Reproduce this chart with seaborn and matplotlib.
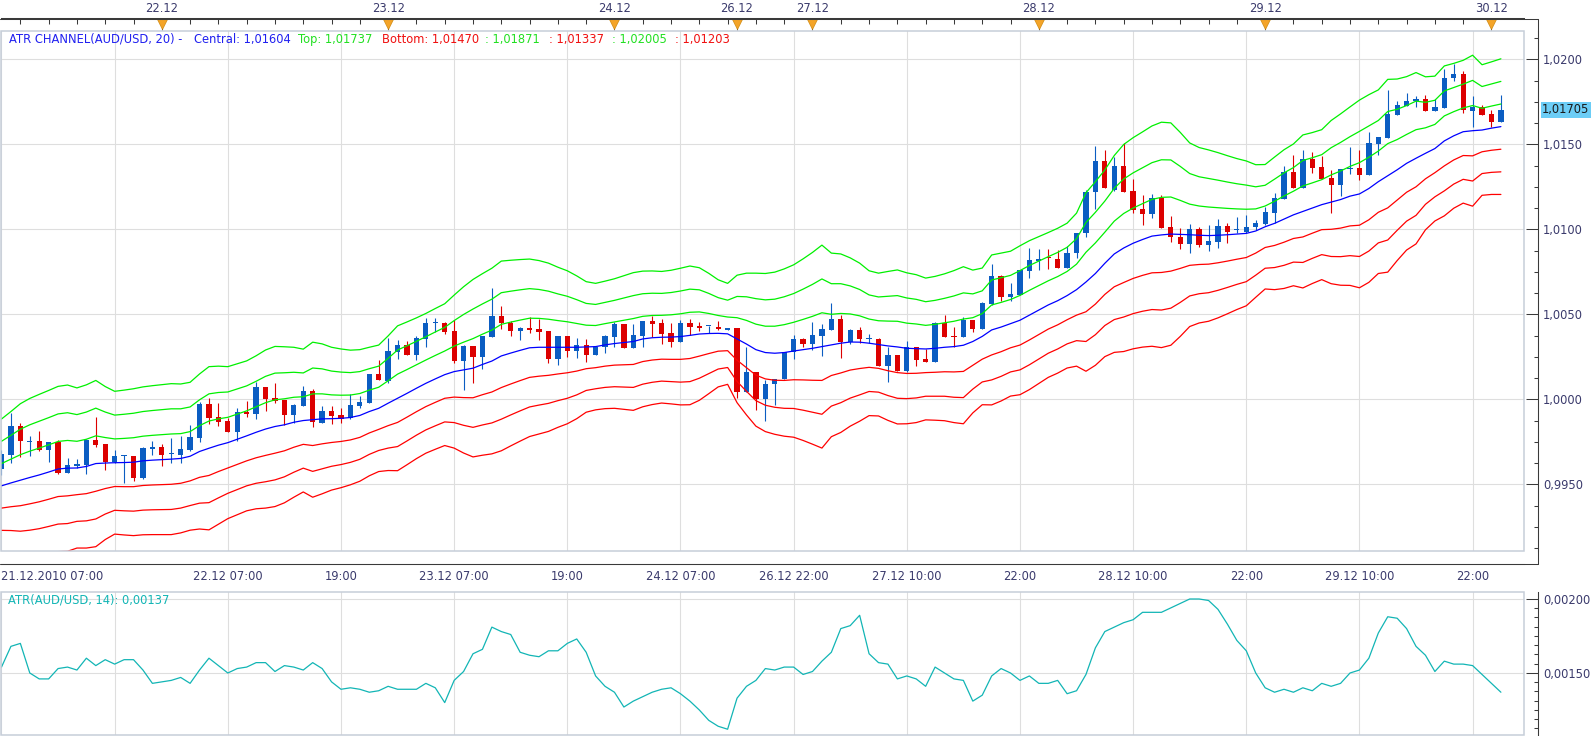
import matplotlib
matplotlib.use("Agg")
import matplotlib.pyplot as plt
import matplotlib.transforms as mtransforms
from matplotlib.lines import Line2D
from matplotlib.patches import Rectangle
from matplotlib.ticker import FixedLocator, FuncFormatter, MultipleLocator
import numpy as np
import pandas as pd
import seaborn as sns

# hourly AUD/USD bars, bar 0 = 21.12.2010 07:00
opens = [0.99589, 0.99673, 0.99844, 0.99750, 0.99756, 0.99703, 0.99750, 0.99569, 0.99610, 0.99614,
         0.99761, 0.99738, 0.99632, 0.99665, 0.99667, 0.99536, 0.99710, 0.99720, 0.99677, 0.99673,
         0.99703, 0.99775, 0.99973, 0.99897, 0.99873, 0.99808, 0.99926, 0.99916, 1.00073, 1.00008,
         0.99993, 0.99910, 0.99963, 1.00050, 0.99863, 0.99932, 0.99906, 0.99889, 0.99963, 0.99981,
         1.00149, 1.00110, 1.00281, 1.00320, 1.00263, 1.00357, 1.00451, 1.00447, 1.00402, 1.00228,
         1.00314, 1.00251, 1.00369, 1.00490, 1.00451, 1.00404, 1.00420, 1.00414, 1.00402, 1.00236,
         1.00373, 1.00286, 1.00320, 1.00263, 1.00306, 1.00369, 1.00443, 1.00304, 1.00373, 1.00463,
         1.00447, 1.00388, 1.00339, 1.00447, 1.00432, 1.00430, 1.00428, 1.00410, 1.00418, 1.00043,
         1.00161, 1.00004, 1.00089, 1.00118, 1.00281, 1.00355, 1.00324, 1.00375, 1.00410, 1.00473,
         1.00339, 1.00408, 1.00357, 1.00355, 1.00198, 1.00259, 1.00169, 1.00306, 1.00236, 1.00220,
         1.00451, 1.00373, 1.00365, 1.00467, 1.00412, 1.00563, 1.00726, 1.00600, 1.00614, 1.00757,
         1.00816, 1.00833, 1.00826, 1.00775, 1.00859, 1.00976, 1.01217, 1.01400, 1.01231, 1.01372,
         1.01225, 1.01119, 1.01090, 1.01182, 1.01016, 1.00953, 1.00914, 1.01000, 1.00908, 1.00927,
         1.01020, 1.00994, 1.00986, 1.01012, 1.01031, 1.01098, 1.01178, 1.01335, 1.01245, 1.01412,
         1.01364, 1.01300, 1.01263, 1.01353, 1.01362, 1.01319, 1.01504, 1.01539, 1.01672, 1.01725,
         1.01753, 1.01766, 1.01698, 1.01715, 1.01888, 1.01913, 1.01698, 1.01717, 1.01678, 1.01633]
highs = [0.99703, 0.99918, 0.99859, 0.99785, 0.99814, 0.99750, 0.99758, 0.99654, 0.99648, 0.99765,
         0.99893, 0.99738, 0.99703, 0.99671, 0.99667, 0.99718, 0.99756, 0.99738, 0.99775, 0.99785,
         0.99850, 0.99987, 1.00006, 0.99977, 0.99889, 0.99950, 0.99991, 1.00100, 1.00075, 1.00095,
         0.99993, 0.99973, 1.00079, 1.00063, 0.99963, 0.99961, 0.99946, 1.00032, 1.00020, 1.00151,
         1.00232, 1.00359, 1.00349, 1.00343, 1.00373, 1.00477, 1.00477, 1.00455, 1.00467, 1.00320,
         1.00314, 1.00373, 1.00653, 1.00549, 1.00463, 1.00424, 1.00482, 1.00475, 1.00402, 1.00373,
         1.00373, 1.00363, 1.00355, 1.00314, 1.00377, 1.00455, 1.00443, 1.00441, 1.00463, 1.00490,
         1.00471, 1.00451, 1.00467, 1.00475, 1.00455, 1.00434, 1.00463, 1.00420, 1.00418, 1.00310,
         1.00161, 1.00114, 1.00118, 1.00281, 1.00379, 1.00363, 1.00453, 1.00443, 1.00569, 1.00496,
         1.00414, 1.00428, 1.00384, 1.00363, 1.00306, 1.00259, 1.00345, 1.00310, 1.00294, 1.00455,
         1.00496, 1.00428, 1.00482, 1.00467, 1.00573, 1.00796, 1.00731, 1.00682, 1.00761, 1.00888,
         1.00884, 1.00884, 1.00878, 1.00902, 1.00976, 1.01231, 1.01492, 1.01466, 1.01423, 1.01506,
         1.01294, 1.01202, 1.01208, 1.01202, 1.01078, 1.01006, 1.01031, 1.01012, 1.01025, 1.01061,
         1.01039, 1.01071, 1.01084, 1.01055, 1.01129, 1.01212, 1.01372, 1.01437, 1.01466, 1.01453,
         1.01431, 1.01349, 1.01353, 1.01482, 1.01466, 1.01574, 1.01543, 1.01819, 1.01753, 1.01800,
         1.01784, 1.01790, 1.01764, 1.01943, 1.01970, 1.01931, 1.01784, 1.01731, 1.01702, 1.01790]
lows = [0.99556, 0.99628, 0.99663, 0.99669, 0.99693, 0.99634, 0.99561, 0.99565, 0.99595, 0.99561,
        0.99722, 0.99585, 0.99624, 0.99507, 0.99522, 0.99532, 0.99673, 0.99609, 0.99628, 0.99628,
        0.99693, 0.99750, 0.99852, 0.99844, 0.99808, 0.99754, 0.99893, 0.99887, 0.99932, 0.99977,
        0.99848, 0.99859, 0.99961, 0.99836, 0.99859, 0.99857, 0.99859, 0.99885, 0.99948, 0.99977,
        1.00114, 1.00098, 1.00236, 1.00263, 1.00232, 1.00310, 1.00398, 1.00383, 1.00212, 1.00055,
        1.00098, 1.00177, 1.00365, 1.00416, 1.00373, 1.00349, 1.00388, 1.00349, 1.00216, 1.00202,
        1.00251, 1.00245, 1.00222, 1.00263, 1.00275, 1.00310, 1.00304, 1.00304, 1.00310, 1.00369,
        1.00328, 1.00306, 1.00339, 1.00379, 1.00402, 1.00392, 1.00408, 1.00408, 1.00006, 1.00043,
        0.99938, 0.99875, 0.99967, 1.00118, 1.00239, 1.00310, 1.00290, 1.00257, 1.00410, 1.00245,
        1.00324, 1.00330, 1.00330, 1.00198, 1.00100, 1.00169, 1.00163, 1.00196, 1.00218, 1.00220,
        1.00369, 1.00306, 1.00365, 1.00398, 1.00412, 1.00555, 1.00580, 1.00580, 1.00614, 1.00716,
        1.00761, 1.00767, 1.00775, 1.00775, 1.00829, 1.00953, 1.01121, 1.01245, 1.01225, 1.01221,
        1.01098, 1.01025, 1.01069, 1.01010, 1.00927, 1.00884, 1.00863, 1.00898, 1.00874, 1.00892,
        1.00918, 1.00976, 1.00976, 1.00996, 1.01025, 1.01039, 1.01178, 1.01241, 1.01245, 1.01333,
        1.01298, 1.01098, 1.01198, 1.01325, 1.01290, 1.01319, 1.01437, 1.01539, 1.01672, 1.01725,
        1.01721, 1.01698, 1.01698, 1.01715, 1.01874, 1.01682, 1.01604, 1.01672, 1.01604, 1.01633]
closes = [0.99679, 0.99844, 0.99752, 0.99756, 0.99703, 0.99750, 0.99569, 0.99612, 0.99620, 0.99761,
          0.99732, 0.99632, 0.99667, 0.99669, 0.99536, 0.99714, 0.99720, 0.99673, 0.99681, 0.99709,
          0.99779, 0.99975, 0.99891, 0.99869, 0.99808, 0.99926, 0.99916, 1.00073, 1.00004, 0.99989,
          0.99910, 0.99967, 1.00050, 0.99865, 0.99932, 0.99904, 0.99885, 0.99967, 0.99985, 1.00149,
          1.00114, 1.00285, 1.00320, 1.00263, 1.00361, 1.00449, 1.00455, 1.00398, 1.00228, 1.00314,
          1.00251, 1.00373, 1.00490, 1.00451, 1.00404, 1.00420, 1.00408, 1.00398, 1.00236, 1.00373,
          1.00286, 1.00320, 1.00263, 1.00306, 1.00373, 1.00443, 1.00304, 1.00379, 1.00463, 1.00443,
          1.00386, 1.00339, 1.00449, 1.00428, 1.00420, 1.00434, 1.00412, 1.00418, 1.00043, 1.00161,
          1.00004, 1.00091, 1.00118, 1.00281, 1.00353, 1.00324, 1.00377, 1.00414, 1.00473, 1.00339,
          1.00408, 1.00353, 1.00361, 1.00198, 1.00261, 1.00169, 1.00306, 1.00232, 1.00220, 1.00451,
          1.00369, 1.00365, 1.00467, 1.00412, 1.00565, 1.00726, 1.00600, 1.00620, 1.00761, 1.00820,
          1.00828, 1.00829, 1.00775, 1.00859, 1.00976, 1.01219, 1.01400, 1.01245, 1.01372, 1.01221,
          1.01114, 1.01090, 1.01182, 1.01010, 1.00953, 1.00914, 1.01000, 1.00908, 1.00931, 1.01020,
          1.00986, 1.00998, 1.01012, 1.01035, 1.01102, 1.01182, 1.01335, 1.01245, 1.01412, 1.01362,
          1.01298, 1.01263, 1.01353, 1.01362, 1.01319, 1.01506, 1.01543, 1.01678, 1.01729, 1.01753,
          1.01766, 1.01698, 1.01717, 1.01888, 1.01913, 1.01702, 1.01717, 1.01672, 1.01633, 1.01702]

# ATR channel centre line and channel step (distance between neighbouring bands)
central = [0.99491, 0.99508, 0.99524, 0.99540, 0.99555, 0.99572, 0.99590, 0.99595, 0.99596, 0.99605,
           0.99622, 0.99625, 0.99627, 0.99628, 0.99630, 0.99638, 0.99642, 0.99645, 0.99648, 0.99652,
           0.99665, 0.99693, 0.99712, 0.99730, 0.99745, 0.99765, 0.99785, 0.99806, 0.99825, 0.99840,
           0.99850, 0.99865, 0.99875, 0.99880, 0.99885, 0.99886, 0.99888, 0.99893, 0.99905, 0.99928,
           0.99947, 0.99977, 1.00006, 1.00035, 1.00065, 1.00094, 1.00120, 1.00145, 1.00163, 1.00173,
           1.00183, 1.00205, 1.00225, 1.00255, 1.00272, 1.00288, 1.00303, 1.00306, 1.00306, 1.00306,
           1.00306, 1.00306, 1.00308, 1.00310, 1.00320, 1.00328, 1.00334, 1.00340, 1.00355, 1.00362,
           1.00365, 1.00366, 1.00369, 1.00376, 1.00384, 1.00387, 1.00388, 1.00385, 1.00355, 1.00325,
           1.00292, 1.00275, 1.00271, 1.00275, 1.00284, 1.00292, 1.00300, 1.00310, 1.00320, 1.00330,
           1.00337, 1.00336, 1.00330, 1.00322, 1.00314, 1.00308, 1.00300, 1.00298, 1.00296, 1.00300,
           1.00306, 1.00310, 1.00318, 1.00340, 1.00370, 1.00408, 1.00425, 1.00445, 1.00465, 1.00495,
           1.00525, 1.00555, 1.00580, 1.00610, 1.00645, 1.00690, 1.00740, 1.00800, 1.00855, 1.00890,
           1.00918, 1.00940, 1.00960, 1.00967, 1.00972, 1.00970, 1.00968, 1.00965, 1.00963, 1.00965,
           1.00968, 1.00972, 1.00976, 1.00990, 1.01015, 1.01035, 1.01060, 1.01085, 1.01105, 1.01125,
           1.01145, 1.01160, 1.01175, 1.01195, 1.01208, 1.01240, 1.01280, 1.01315, 1.01350, 1.01388,
           1.01418, 1.01447, 1.01475, 1.01520, 1.01550, 1.01574, 1.01580, 1.01584, 1.01595, 1.01604]
channel_step = [0.00131, 0.00140, 0.00150, 0.00155, 0.00158, 0.00160, 0.00162, 0.00163, 0.00157, 0.00160,
                0.00163, 0.00150, 0.00140, 0.00142, 0.00144, 0.00145, 0.00146, 0.00147, 0.00148, 0.00146,
                0.00145, 0.00152, 0.00160, 0.00155, 0.00149, 0.00148, 0.00147, 0.00150, 0.00155, 0.00157,
                0.00153, 0.00147, 0.00140, 0.00152, 0.00147, 0.00140, 0.00136, 0.00132, 0.00129, 0.00126,
                0.00124, 0.00132, 0.00142, 0.00140, 0.00138, 0.00137, 0.00138, 0.00139, 0.00150, 0.00163,
                0.00174, 0.00178, 0.00182, 0.00186, 0.00182, 0.00178, 0.00174, 0.00170, 0.00165, 0.00157,
                0.00150, 0.00140, 0.00128, 0.00124, 0.00125, 0.00127, 0.00131, 0.00135, 0.00133, 0.00131,
                0.00129, 0.00131, 0.00134, 0.00136, 0.00130, 0.00118, 0.00105, 0.00099, 0.00125, 0.00139,
                0.00150, 0.00155, 0.00159, 0.00164, 0.00169, 0.00178, 0.00188, 0.00199, 0.00180, 0.00175,
                0.00165, 0.00155, 0.00142, 0.00140, 0.00146, 0.00151, 0.00148, 0.00145, 0.00139, 0.00141,
                0.00144, 0.00149, 0.00154, 0.00140, 0.00134, 0.00147, 0.00145, 0.00142, 0.00146, 0.00146,
                0.00144, 0.00142, 0.00142, 0.00142, 0.00150, 0.00175, 0.00180, 0.00183, 0.00193, 0.00203,
                0.00207, 0.00211, 0.00216, 0.00221, 0.00218, 0.00200, 0.00180, 0.00172, 0.00168, 0.00162,
                0.00155, 0.00148, 0.00142, 0.00130, 0.00122, 0.00130, 0.00136, 0.00139, 0.00150, 0.00148,
                0.00147, 0.00160, 0.00168, 0.00175, 0.00184, 0.00184, 0.00180, 0.00189, 0.00178, 0.00170,
                0.00168, 0.00150, 0.00142, 0.00147, 0.00142, 0.00140, 0.00148, 0.00128, 0.00130, 0.00133]

# ATR(14) lower panel
atr = [0.00154, 0.00168, 0.00170, 0.00150, 0.00146, 0.00146, 0.00153, 0.00154, 0.00152, 0.00160,
       0.00155, 0.00159, 0.00156, 0.00159, 0.00159, 0.00152, 0.00143, 0.00144, 0.00145, 0.00147,
       0.00143, 0.00152, 0.00160, 0.00155, 0.00150, 0.00153, 0.00154, 0.00157, 0.00157, 0.00151,
       0.00155, 0.00154, 0.00152, 0.00157, 0.00153, 0.00144, 0.00139, 0.00140, 0.00139, 0.00137,
       0.00138, 0.00141, 0.00139, 0.00139, 0.00139, 0.00143, 0.00140, 0.00130, 0.00145, 0.00151,
       0.00163, 0.00166, 0.00181, 0.00178, 0.00176, 0.00164, 0.00162, 0.00161, 0.00165, 0.00165,
       0.00170, 0.00173, 0.00164, 0.00148, 0.00141, 0.00137, 0.00127, 0.00131, 0.00134, 0.00137,
       0.00139, 0.00140, 0.00136, 0.00131, 0.00125, 0.00118, 0.00114, 0.00112, 0.00133, 0.00141,
       0.00145, 0.00153, 0.00152, 0.00154, 0.00154, 0.00149, 0.00151, 0.00158, 0.00164, 0.00180,
       0.00182, 0.00189, 0.00163, 0.00157, 0.00156, 0.00146, 0.00148, 0.00146, 0.00141, 0.00154,
       0.00150, 0.00146, 0.00145, 0.00131, 0.00135, 0.00148, 0.00153, 0.00150, 0.00145, 0.00148,
       0.00143, 0.00143, 0.00145, 0.00136, 0.00138, 0.00149, 0.00167, 0.00178, 0.00181, 0.00184,
       0.00186, 0.00191, 0.00191, 0.00191, 0.00194, 0.00197, 0.00200, 0.00200, 0.00199, 0.00193,
       0.00183, 0.00172, 0.00165, 0.00150, 0.00140, 0.00137, 0.00139, 0.00137, 0.00140, 0.00138,
       0.00143, 0.00141, 0.00143, 0.00150, 0.00152, 0.00160, 0.00177, 0.00188, 0.00187, 0.00180,
       0.00168, 0.00162, 0.00151, 0.00158, 0.00156, 0.00156, 0.00155, 0.00149, 0.00143, 0.00137]

bottom_ticks = [0, 12, 24, 36, 48, 60, 72, 84, 96, 108, 120, 132, 144, 156]
bottom_labels = ["21.12.2010 07:00", "", "22.12 07:00", "19:00", "23.12 07:00", "19:00", "24.12 07:00",
                 "26.12 22:00", "27.12 10:00", "22:00", "28.12 10:00", "22:00", "29.12 10:00", "22:00"]
day_starts = [17, 41, 65, 78, 86, 110, 134, 158]
day_labels = ["22.12", "23.12", "24.12", "26.12", "27.12", "28.12", "29.12", "30.12"]
bar_hours = [(7 + i) % 24 for i in range(78)] + [(16 + i) % 24 for i in range(82)]
price_ticks = [0.9950, 1.0000, 1.0050, 1.0100, 1.0150, 1.0200]
atr_ticks = [0.0015, 0.0020]

legend_texts = ["ATR CHANNEL(AUD/USD, 20) -", "Central: 1,01604", "Top: 1,01737", "Bottom: 1,01470",
                ": 1,01871", ": 1,01337", ": 1,02005", ": 1,01203"]
legend_kinds = ["central", "central", "top", "bottom", "top", "bottom", "top", "bottom"]
atr_legend = "ATR(AUD/USD, 14): 0,00137"
last_price_label = "1,01705"

# ---------------------------------------------------------------- style
sns.set_style("white")
plt.rcParams["font.family"] = ["DejaVu Sans"]
FS = 8.3
UP, DOWN = "#0B5DC2", "#DC0000"
CENTRAL, TOP, BOTTOM = "#0000FF", "#00F000", "#FF0000"
TEXT_COL = {"central": "#2020F0", "top": "#22E022", "bottom": "#F01010"}
TEAL = "#12B5B5"
AXIS = "#3A3A3A"
TICKTXT = "#3A3A6C"
FRAME = "#C6CED9"
GRID = "#DEDEDE"

W, H = 1596, 736
PX = 0.72  # points per pixel at 100 dpi
fig = plt.figure(figsize=(W / 100, H / 100), dpi=100)


def box(x0, y0, x1, y1):
    return [x0 / W, 1 - y1 / H, (x1 - x0) / W, (y1 - y0) / H]


def fig_line(xs, ys):
    fig.add_artist(Line2D([x / W for x in xs], [1 - y / H for y in ys],
                          color=AXIS, lw=0.75, transform=fig.transFigure))


XLIM = (-0.053, 161.45)
bars = np.arange(len(closes))
df = pd.DataFrame({"bar": bars, "open": opens, "high": highs, "low": lows, "close": closes})
central_s = np.array(central)
step_s = np.array(channel_step)

# ---------------------------------------------------------------- main panel
ax = fig.add_axes(box(1, 31, 1524, 551))
ax.set_axisbelow(True)

up = df["close"] >= df["open"]
for mask, col in ((up, UP), (~up, DOWN)):
    d = df[mask]
    ax.vlines(d["bar"], d["low"], d["high"], color=col, lw=0.8, zorder=3)
    body = (d["close"] - d["open"]).abs().clip(lower=0.00006)
    ax.bar(d["bar"], body, bottom=np.minimum(d["open"], d["close"]), width=0.56,
           color=col, linewidth=0, zorder=4)

sns.lineplot(x=bars, y=central_s, ax=ax, color=CENTRAL, lw=0.9, zorder=5)
for k in (1, 2, 3):
    sns.lineplot(x=bars, y=central_s + k * step_s, ax=ax, color=TOP, lw=0.9, zorder=5)
    sns.lineplot(x=bars, y=central_s - k * step_s, ax=ax, color=BOTTOM, lw=0.9, zorder=5)

ax.set_xlim(*XLIM)
ax.set_ylim(0.991076, 1.021665)
ax.set_xlabel("")
ax.set_ylabel("")
for s in ("left", "top"):
    ax.spines[s].set_visible(False)
ax.spines["right"].set_position(("outward", 14 * PX))
ax.spines["bottom"].set_position(("outward", 13 * PX))
for s in ("right", "bottom"):
    ax.spines[s].set_color(AXIS)
    ax.spines[s].set_linewidth(0.75)

ax.yaxis.tick_right()
ax.yaxis.set_major_locator(FixedLocator(price_ticks))
ax.yaxis.set_minor_locator(MultipleLocator(0.00125))
ax.yaxis.set_major_formatter(FuncFormatter(lambda v, p: f"{v:.4f}".replace(".", ",")))
ax.tick_params(axis="y", which="major", direction="in", length=12 * PX, width=0.75, color=AXIS,
               pad=5 * PX, labelsize=FS, labelcolor=TICKTXT)
ax.tick_params(axis="y", which="minor", direction="in", length=4 * PX, width=0.75, color=AXIS)

ax.xaxis.set_major_locator(FixedLocator(bottom_ticks))
ax.set_xticklabels(bottom_labels)
ax.xaxis.set_minor_locator(MultipleLocator(1.5))
ax.tick_params(axis="x", which="major", direction="in", length=12 * PX, width=0.75, color=AXIS,
               pad=6 * PX, labelsize=FS, labelcolor=TICKTXT)
ax.tick_params(axis="x", which="minor", direction="in", length=4 * PX, width=0.75, color=AXIS)
ax.get_xticklabels()[0].set_ha("left")
ax.grid(True, which="major", color=GRID, lw=0.8)
ax.add_patch(Rectangle((0, 0), 1, 1, transform=ax.transAxes, fill=False, ec=FRAME, lw=1.1,
                       clip_on=False, zorder=6))

# top date axis with day markers
top = ax.secondary_xaxis(1 + 12.5 / 520)
top.xaxis.set_major_locator(FixedLocator(day_starts))
top.set_xticklabels(day_labels)
top.xaxis.set_minor_locator(FixedLocator([i for i, h in enumerate(bar_hours) if h % 3 == 0]))
top.tick_params(which="major", direction="in", length=12 * PX, width=0.75, color=AXIS,
                pad=3 * PX, labelsize=FS, labelcolor=TICKTXT)
top.tick_params(which="minor", direction="in", length=6 * PX, width=0.75, color=AXIS)
top.spines["top"].set_color(AXIS)
top.spines["top"].set_linewidth(0.75)

trans = mtransforms.blended_transform_factory(ax.transData, ax.transAxes)
ax.plot(day_starts, [1 + 7.5 / 520] * len(day_starts), "v", ms=7, color="#F4A428",
        mec="#D08A10", mew=0.5, transform=trans, clip_on=False, zorder=10)

# last price tag
tag_tr = mtransforms.blended_transform_factory(ax.transAxes, ax.transData)
ax.text(1 + 18 / 1523, closes[-1], last_price_label, transform=tag_tr, ha="left", va="center",
        fontsize=FS, color="#1A1A1A", clip_on=False, zorder=12,
        bbox=dict(boxstyle="square,pad=0.1", fc="#6CCDF6", ec="none"))

# legend line
legend_x = [8.7, 194, 298, 382, 485, 549, 612, 675]
for txt, kind, x in zip(legend_texts, legend_kinds, legend_x):
    fig.text(x / W, 1 - 39.5 / H, txt, color=TEXT_COL[kind], fontsize=FS, ha="left", va="center")

# ---------------------------------------------------------------- ATR panel
ax2 = fig.add_axes(box(1, 592, 1524, 735))
ax2.set_axisbelow(True)
sns.lineplot(x=bars, y=atr, ax=ax2, color=TEAL, lw=0.9)
ax2.set_xlim(*XLIM)
ax2.set_ylim(0.001081, 0.0020473)
ax2.set_xlabel("")
ax2.set_ylabel("")
for s in ("left", "top", "bottom"):
    ax2.spines[s].set_visible(False)
ax2.spines["right"].set_position(("outward", 14 * PX))
ax2.spines["right"].set_color(AXIS)
ax2.spines["right"].set_linewidth(0.75)
ax2.yaxis.tick_right()
ax2.yaxis.set_major_locator(FixedLocator(atr_ticks))
ax2.yaxis.set_minor_locator(MultipleLocator(0.0000625))
ax2.yaxis.set_major_formatter(FuncFormatter(lambda v, p: f"{v:.5f}".replace(".", ",")))
ax2.tick_params(axis="y", which="major", direction="in", length=12 * PX, width=0.75, color=AXIS,
                pad=5 * PX, labelsize=FS, labelcolor=TICKTXT)
ax2.tick_params(axis="y", which="minor", direction="in", length=4 * PX, width=0.75, color=AXIS)
ax2.xaxis.set_major_locator(FixedLocator(bottom_ticks))
ax2.tick_params(axis="x", length=0, labelbottom=False)
ax2.grid(True, which="major", color=GRID, lw=0.8)
ax2.add_patch(Rectangle((0, 0), 1, 1, transform=ax2.transAxes, fill=False, ec=FRAME, lw=1.1,
                        clip_on=False, zorder=6))
fig.text(8.3 / W, 1 - 600 / H, atr_legend, color=TEAL, fontsize=FS, ha="left", va="center")

# dark outer axis frame joins
fig_line([0, 1538], [18.5, 18.5])
fig_line([1538, 1538], [18.5, 564])
fig_line([0, 1538], [564, 564])
fig_line([1538, 1538], [592, 736])

fig.savefig("out.png", dpi=100)
